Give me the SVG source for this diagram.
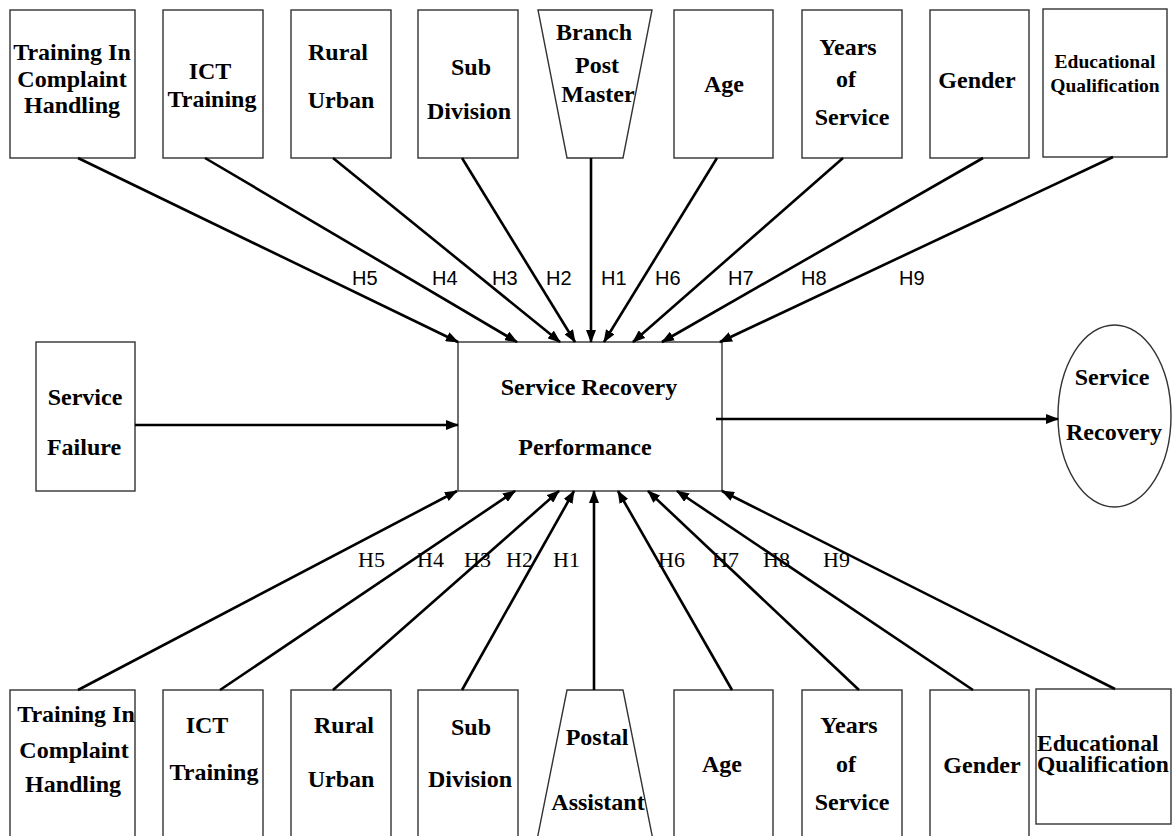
<svg xmlns="http://www.w3.org/2000/svg" width="1172" height="836" viewBox="0 0 1172 836">
<style>
.box{fill:#fff;stroke:#333;stroke-width:1.4}
.t{font-family:"Liberation Serif","Times New Roman",serif;font-weight:bold;font-size:24px;fill:#000;text-anchor:middle}
.ts{font-size:19.5px}
.c{stroke:#000;stroke-width:2.6;fill:none;marker-end:url(#ah)}
.ht{font-family:"Liberation Sans",Arial,sans-serif;font-size:20px;fill:#000}
.hb{font-family:"Liberation Serif","Times New Roman",serif;font-size:22px;fill:#000}
</style>
<defs>
<marker id="ah" markerUnits="userSpaceOnUse" markerWidth="13" markerHeight="10" refX="12" refY="5" orient="auto">
<path d="M0,0 L13,5 L0,10 z" fill="#000"/>
</marker>
</defs>
<rect width="1172" height="836" fill="#fff"/>

<g id="top-training-complaint"><rect class="box" x="10" y="10" width="125" height="148"/>
<text class="t" x="72" y="60">Training In</text><text class="t" x="72" y="87">Complaint</text><text class="t" x="72" y="113">Handling</text></g>
<g id="top-ict"><rect class="box" x="163" y="10" width="100" height="148"/>
<text class="t" x="210" y="79">ICT</text><text class="t" x="212" y="107">Training</text></g>
<g id="top-rural"><rect class="box" x="291" y="10" width="100" height="148"/>
<text class="t" x="338" y="60">Rural</text><text class="t" x="341" y="108">Urban</text></g>
<g id="top-subdivision"><rect class="box" x="418" y="10" width="100" height="148"/>
<text class="t" x="471" y="75">Sub</text><text class="t" x="469" y="119">Division</text></g>
<g id="top-bpm"><path class="box" d="M538,10 L652,10 L623,158 L567,158 Z"/>
<text class="t" x="594" y="40">Branch</text><text class="t" x="597" y="73">Post</text><text class="t" x="598" y="102">Master</text></g>
<g id="top-age"><rect class="box" x="674" y="10" width="99" height="148"/>
<text class="t" x="724" y="92">Age</text></g>
<g id="top-years"><rect class="box" x="802" y="10" width="100" height="148"/>
<text class="t" x="848" y="55">Years</text><text class="t" x="846" y="87">of</text><text class="t" x="852" y="125">Service</text></g>
<g id="top-gender"><rect class="box" x="930" y="10" width="99" height="148"/>
<text class="t" x="977" y="88">Gender</text></g>
<g id="top-education"><rect class="box" x="1043" y="9" width="124" height="148"/>
<text class="t ts" x="1105" y="68">Educational</text><text class="t ts" x="1105" y="92">Qualification</text></g>

<g id="service-failure"><rect class="box" x="36" y="342" width="99" height="149"/>
<text class="t" x="85" y="405">Service</text><text class="t" x="84" y="455">Failure</text></g>
<g id="srp"><rect class="box" x="458" y="342" width="264" height="149"/>
<text class="t" x="589" y="395">Service Recovery</text><text class="t" x="585" y="455">Performance</text></g>
<g id="service-recovery"><ellipse class="box" cx="1114.5" cy="416" rx="56.5" ry="91"/>
<text class="t" x="1112" y="385">Service</text><text class="t" x="1114" y="440">Recovery</text></g>

<g id="bot-training-complaint"><rect class="box" x="10" y="690" width="125" height="160"/>
<text class="t" x="76" y="722">Training In</text><text class="t" x="74" y="758">Complaint</text><text class="t" x="73" y="792">Handling</text></g>
<g id="bot-ict"><rect class="box" x="163" y="690" width="100" height="160"/>
<text class="t" x="207" y="733">ICT</text><text class="t" x="214" y="780">Training</text></g>
<g id="bot-rural"><rect class="box" x="291" y="690" width="100" height="160"/>
<text class="t" x="344" y="733">Rural</text><text class="t" x="341" y="787">Urban</text></g>
<g id="bot-subdivision"><rect class="box" x="418" y="690" width="100" height="160"/>
<text class="t" x="471" y="735">Sub</text><text class="t" x="470" y="787">Division</text></g>
<g id="bot-pa"><path class="box" d="M567,690 L623,690 L653,840 L537,840 Z"/>
<text class="t" x="597" y="745">Postal</text><text class="t" x="598" y="810">Assistant</text></g>
<g id="bot-age"><rect class="box" x="674" y="690" width="99" height="160"/>
<text class="t" x="722" y="772">Age</text></g>
<g id="bot-years"><rect class="box" x="802" y="690" width="100" height="160"/>
<text class="t" x="849" y="733">Years</text><text class="t" x="846" y="772">of</text><text class="t" x="852" y="810">Service</text></g>
<g id="bot-gender"><rect class="box" x="930" y="690" width="99" height="160"/>
<text class="t" x="982" y="773">Gender</text></g>
<g id="bot-education"><rect class="box" x="1036" y="689" width="135" height="135"/>
<text class="t" x="1037" y="751" style="text-anchor:start;font-size:23.5px">Educational</text><text class="t" x="1037" y="772" style="text-anchor:start;font-size:23.5px">Qualification</text></g>

<g id="connectors">
<line class="c" x1="78" y1="158" x2="458" y2="342"/>
<line class="c" x1="205" y1="158" x2="517" y2="342"/>
<line class="c" x1="333" y1="158" x2="560" y2="342"/>
<line class="c" x1="462" y1="158" x2="575" y2="342"/>
<line class="c" x1="591" y1="158" x2="591" y2="342"/>
<line class="c" x1="717" y1="158" x2="604" y2="342"/>
<line class="c" x1="843" y1="158" x2="633" y2="342"/>
<line class="c" x1="983" y1="158" x2="662" y2="342"/>
<line class="c" x1="1113" y1="157" x2="720" y2="342"/>
<line class="c" x1="78" y1="690" x2="457" y2="491"/>
<line class="c" x1="220" y1="690" x2="515" y2="491"/>
<line class="c" x1="333" y1="690" x2="559" y2="491"/>
<line class="c" x1="462" y1="690" x2="574" y2="491"/>
<line class="c" x1="594" y1="690" x2="594" y2="491"/>
<line class="c" x1="732" y1="690" x2="618" y2="491"/>
<line class="c" x1="859" y1="690" x2="648" y2="491"/>
<line class="c" x1="973" y1="690" x2="677" y2="491"/>
<line class="c" x1="1115" y1="689" x2="722" y2="491"/>
<line class="c" x1="135" y1="425" x2="458" y2="425"/>
<line class="c" x1="716" y1="419" x2="1058" y2="419"/>
</g>

<g id="labels">
<text class="ht" x="352" y="285">H5</text>
<text class="ht" x="432" y="285">H4</text>
<text class="ht" x="492" y="285">H3</text>
<text class="ht" x="546" y="285">H2</text>
<text class="ht" x="601" y="285">H1</text>
<text class="ht" x="655" y="285">H6</text>
<text class="ht" x="728" y="285">H7</text>
<text class="ht" x="801" y="285">H8</text>
<text class="ht" x="899" y="285">H9</text>
<text class="hb" x="358" y="567">H5</text>
<text class="hb" x="417" y="567">H4</text>
<text class="hb" x="464" y="567">H3</text>
<text class="hb" x="506" y="567">H2</text>
<text class="hb" x="553" y="567">H1</text>
<text class="hb" x="658" y="567">H6</text>
<text class="hb" x="712" y="567">H7</text>
<text class="hb" x="763" y="567">H8</text>
<text class="hb" x="823" y="567">H9</text>
</g>
</svg>
